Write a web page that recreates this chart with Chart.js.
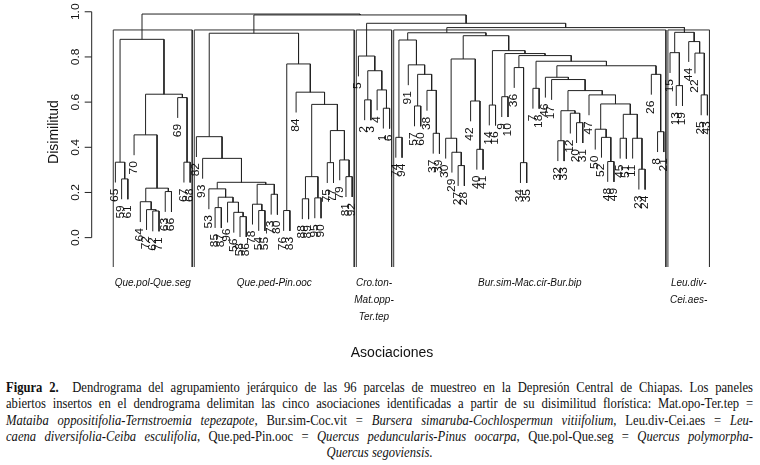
<!DOCTYPE html>
<html lang="es">
<head>
<meta charset="utf-8">
<title>Dendrograma - Depresión Central de Chiapas</title>
<script src="https://cdn.jsdelivr.net/npm/chart.js@4.4.1/dist/chart.umd.min.js"></script>
<style>
  html, body { margin: 0; padding: 0; background: #fff; }
  #page { position: relative; width: 760px; height: 465px; overflow: hidden; background: #fff; }
  #plot { position: absolute; left: 0; top: 0; width: 760px; height: 370px; }
  #caption {
    position: absolute; left: 6px; top: 380px; width: 830px;
    transform: scaleX(0.9); transform-origin: 0 0;
    font-family: 'Liberation Serif', 'DejaVu Serif', serif; font-size: 14px; line-height: 16.3px; color: #111;
  }
  #caption div { text-align: justify; text-align-last: justify; }
  #caption div.last { text-align: center; text-align-last: center; }
</style>
</head>
<body>
<div id="page">
  <div id="plot"><canvas id="dendro"></canvas></div>
  <div id="caption">
    <div><b>Figura 2.</b>&nbsp; Dendrograma del agrupamiento jerárquico de las 96 parcelas de muestreo en la Depresión Central de Chiapas. Los paneles</div>
    <div>abiertos insertos en el dendrograma delimitan las cinco asociaciones identificadas a partir de su disimilitud florística: Mat.opo-Ter.tep =</div>
    <div><i>Mataiba oppositifolia-Ternstroemia tepezapote</i>, Bur.sim-Coc.vit = <i>Bursera simaruba-Cochlospermun vitiifolium</i>, Leu.div-Cei.aes = <i>Leu-</i></div>
    <div><i>caena diversifolia-Ceiba esculifolia</i>, Que.ped-Pin.ooc = <i>Quercus peduncularis-Pinus oocarpa</i>, Que.pol-Que.seg = <i>Quercus polymorpha-</i></div>
    <div class="last"><i>Quercus segoviensis</i>.</div>
  </div>
</div>
<script>
  // --- datos: ramas por asociación, [izq, der, altura]; hojas = número de parcela ---
  var quePolQueSeg = [[65, [59, 61, 0.26], 0.334], [[70, [[64, [72, [62, 71, 0.118], 0.124], 0.159], [63, 66, 0.204], 0.219], 0.455], [69, [67, 68, 0.334], 0.62], 0.635], 0.878];
  var quePedPinOoc = [[82, [93, [[53, [[85, 87, 0.133], [96, [56, [58, 86, 0.093], 0.112], 0.157], 0.179], 0.216], [[78, [54, 55, 0.12], 0.148], [73, 80, 0.192], 0.236], 0.245], 0.351], 0.447],
                      [[76, 83, 0.12], [84, [[[88, 89, 0.172], [95, 90, 0.176], 0.27], [[75, 77, 0.332], [79, [81, 92, 0.27], 0.344], 0.474], 0.59], 0.644], 0.769], 0.905];
  var croTonMatOpp = [5, [[2, 3, 0.61], [4, [1, 6, 0.573], 0.654], 0.739], 0.804];
  var burSimA = [[74, 94, 0.444], [91, [[57, 60, 0.583], [38, [37, 39, 0.462], 0.652], 0.723], 0.765], 0.875];
  var burSimB = [[30, [29, [27, 28, 0.319], 0.378], 0.44], [42, [40, 41, 0.391], 0.605], 0.791];
  var burSimC = [[[32, 33, 0.429], [12, [20, 31, 0.509], 0.551], 0.562], [47, [[50, [52, [48, 49, 0.337], 0.444], 0.48], [[45, 51, 0.44], [11, [23, 24, 0.303], 0.44], 0.546], 0.592], 0.632], 0.651];
  var burSimD = [[14, 16, 0.587], [[9, 10, 0.624], [[36, [34, 35, 0.332], 0.753], [[7, 18, 0.661], [[46, [17, burSimC, 0.7], 0.71], [26, [8, 21, 0.469], 0.723], 0.761], 0.781], 0.806], 0.815], 0.828];
  var burSimMacCir = [burSimA, [burSimB, burSimD, 0.894], 0.907];
  var leuDivCeiAes = [[15, [13, 19, 0.673], 0.819], [44, [22, [25, 43, 0.632], 0.817], 0.868], 0.909];

  // uniones entre asociaciones (de arriba hacia abajo)
  var upperHeights = [0.99, 0.986, 0.949, 0.93];
  var associations = [['Que.pol-Que.seg'], ['Que.ped-Pin.ooc'], ['Cro.ton-', 'Mat.opp-', 'Ter.tep'], ['Bur.sim-Mac.cir-Bur.bip'], ['Leu.div-', 'Cei.aes-']];
  var yTicks = [0, 0.2, 0.4, 0.6, 0.8, 1];
  var yTickLabels = ['0.0', '0.2', '0.4', '0.6', '0.8', '1.0'];

  var hang = 0.09;
  var yMin = -0.13, yMax = 1.03;

  var panels = [quePolQueSeg, quePedPinOoc, croTonMatOpp, burSimMacCir, leuDivCeiAes];
  var tree = [panels[0], [panels[1], [panels[2], [panels[3], panels[4], upperHeights[3]], upperHeights[2]], upperHeights[1]], upperHeights[0]];

  // --- posiciones: hojas en 1..n, nodos en el punto medio de sus hijos ---
  var leaves = [];
  var branchPts = [];
  var heights = [];

  function place(node) {
    if (typeof node === 'number') {
      var leaf = { label: String(node), x: leaves.length + 1, bottom: null };
      leaves.push(leaf);
      return { x: leaf.x, h: null, leaf: leaf };
    }
    var a = place(node[0]);
    var b = place(node[1]);
    var h = node[2];
    heights.push(h);
    var ya = a.h === null ? h - hang : a.h;
    var yb = b.h === null ? h - hang : b.h;
    if (a.leaf) a.leaf.bottom = ya;
    if (b.leaf) b.leaf.bottom = yb;
    branchPts.push({ x: a.x, y: ya }, { x: a.x, y: h }, { x: b.x, y: h }, { x: b.x, y: yb }, { x: b.x, y: null });
    return { x: (a.x + b.x) / 2, h: h, leaf: null };
  }
  place(tree);

  function countLeaves(node) {
    return typeof node === 'number' ? 1 : countLeaves(node[0]) + countLeaves(node[1]);
  }

  // paneles abiertos (como rect.hclust): techo = media de las alturas 4a y 5a
  var sorted = heights.slice().sort(function (p, q) { return q - p; });
  var boxTop = (sorted[3] + sorted[4]) / 2;
  var boxPts = [];
  var boxCenters = [];
  var first = 1;
  panels.forEach(function (p) {
    var last = first + countLeaves(p) - 1;
    var l = first - 0.34, r = last + 0.33;
    boxPts.push({ x: l, y: yMin }, { x: l, y: boxTop }, { x: r, y: boxTop }, { x: r, y: yMin }, { x: r, y: null });
    boxCenters.push((l + r) / 2);
    first = last + 1;
  });

  var n = leaves.length;
  var xPad = (n - 1) * 0.04;

  function rotText(ctx, txt, x, y, align, font, sx) {
    ctx.save();
    ctx.translate(x, y);
    ctx.scale(sx, 1);
    ctx.rotate(-Math.PI / 2);
    ctx.font = font;
    ctx.textAlign = align;
    ctx.textBaseline = 'middle';
    ctx.fillText(txt, 0, 0);
    ctx.restore();
  }

  var annotate = {
    id: 'annotate',
    afterDatasetsDraw: function (chart) {
      var ctx = chart.ctx, xs = chart.scales.x, ys = chart.scales.y;
      var ax = chart.chartArea.left;
      ctx.save();
      ctx.strokeStyle = '#222';
      ctx.lineWidth = 1;
      ctx.beginPath();
      ctx.moveTo(ax, ys.getPixelForValue(0));
      ctx.lineTo(ax, ys.getPixelForValue(1));
      yTicks.forEach(function (v) {
        var py = ys.getPixelForValue(v);
        ctx.moveTo(ax, py);
        ctx.lineTo(ax - 7, py);
      });
      ctx.stroke();

      ctx.fillStyle = '#111';
      yTicks.forEach(function (v, i) {
        rotText(ctx, yTickLabels[i], ax - 16, ys.getPixelForValue(v), 'center', '12px "Liberation Sans", Arial, sans-serif', 0.85);
      });
      rotText(ctx, 'Disimilitud', 54, 132, 'center', '14px "Liberation Sans", Arial, sans-serif', 1);

      leaves.forEach(function (lf) {
        rotText(ctx, lf.label, xs.getPixelForValue(lf.x), ys.getPixelForValue(lf.bottom) + 6, 'right', '12px "Liberation Sans", Arial, sans-serif', 0.85);
      });

      ctx.font = 'italic 10px "Liberation Sans", Arial, sans-serif';
      ctx.textAlign = 'center';
      ctx.textBaseline = 'middle';
      associations.forEach(function (lines, k) {
        var px = xs.getPixelForValue(boxCenters[k]);
        lines.forEach(function (t, j) {
          ctx.fillText(t, px, 283 + j * 17);
        });
      });

      ctx.font = '14px "Liberation Sans", Arial, sans-serif';
      ctx.fillText('Asociaciones', 392, 353);
      ctx.restore();
    }
  };

  new Chart(document.getElementById('dendro'), {
    type: 'line',
    data: {
      datasets: [
        { data: branchPts, borderColor: '#222', borderWidth: 1, pointRadius: 0, spanGaps: false, clip: false },
        { data: boxPts, borderColor: '#333', borderWidth: 1, pointRadius: 0, spanGaps: false, clip: false }
      ]
    },
    options: {
      responsive: true,
      maintainAspectRatio: false,
      animation: false,
      devicePixelRatio: 1,
      layout: { padding: { left: 91.7, right: 28.9, top: 5, bottom: 103 } },
      plugins: { legend: { display: false }, tooltip: { enabled: false } },
      scales: {
        x: { type: 'linear', min: 1 - xPad, max: n + xPad, display: false },
        y: { type: 'linear', min: yMin, max: yMax, display: false }
      }
    },
    plugins: [annotate]
  });
</script>
</body>
</html>
